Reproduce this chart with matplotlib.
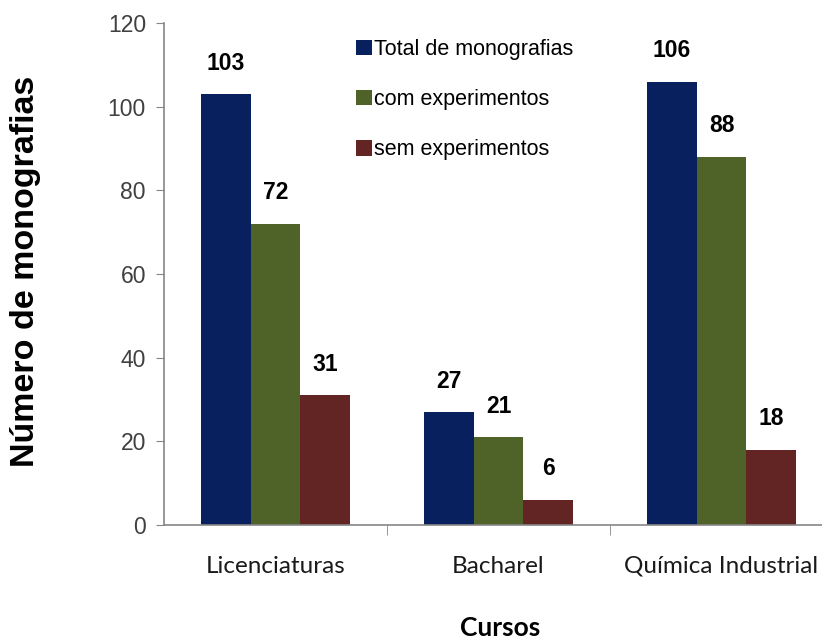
import numpy as np
import matplotlib
matplotlib.use("Agg")
import matplotlib.pyplot as plt

# data
cursos = ["Licenciaturas", "Bacharel", "Química Industrial"]
series = ["Total de monografias", "com experimentos", "sem experimentos"]
total = [103, 27, 106]
com_exp = [72, 21, 88]
sem_exp = [31, 6, 18]
colors = ["#08215E", "#4F6228", "#632523"]

SANS = ["Liberation Sans", "DejaVu Sans"]
W, H = 822, 639

fig = plt.figure(figsize=(W / 100, H / 100), dpi=100)
left, bottom, top = 164, 525, 23
ax = fig.add_axes([left / W, 1 - bottom / H, 1 - left / W, (bottom - top) / H])

x = np.arange(len(cursos))
bw = 0.222
for i, (vals, name, c) in enumerate(zip([total, com_exp, sem_exp], series, colors)):
    bars = ax.bar(x + (i - 1) * bw, vals, bw, color=c, label=name, zorder=2)
    for b, v in zip(bars, vals):
        ax.annotate(str(v), (b.get_x() + b.get_width() / 2, v),
                    xytext=(0, 14), textcoords="offset points",
                    ha="center", va="bottom", fontsize=16.5, fontweight="bold",
                    family=SANS, color="black")

ax.set_ylim(0, 120)
ax.set_xlim(-0.5, -0.5 + (W - left) / 223)
ax.set_yticks(range(0, 121, 20))
ax.tick_params(axis="y", direction="out", length=6, color="#868686",
               labelsize=16.5, labelcolor="#404040", pad=7)
for t in ax.get_yticklabels():
    t.set_family(SANS)

ax.set_xticks(x)
ax.set_xticklabels(cursos, family=["Lato", "DejaVu Sans"], fontsize=17.5,
                   color="#1a1a1a")
ax.tick_params(axis="x", which="major", length=0, pad=22)
ax.set_xticks([0.5, 1.5], minor=True)
ax.tick_params(axis="x", which="minor", direction="out", length=7,
               color="#868686")

for s in ["top", "right"]:
    ax.spines[s].set_visible(False)
for s in ["left", "bottom"]:
    ax.spines[s].set_color("#868686")
    ax.spines[s].set_linewidth(1.2)

ax.legend(loc="upper left", bbox_to_anchor=(356 / W, 1 - 39 / H),
          bbox_transform=fig.transFigure, frameon=False, borderpad=0,
          borderaxespad=0, handlelength=0.75, handleheight=0.75,
          handletextpad=0.1, labelspacing=1.35,
          prop={"family": SANS, "size": 15.5})

fig.text(26 / W, 1 - 271 / H, "Número de monografias", rotation=90,
         ha="center", va="center", fontsize=24.5, fontweight="bold",
         family=SANS)
fig.text(500 / W, 1 - 628 / H, "Cursos", ha="center", va="center",
         fontsize=19, fontweight="bold", family=["Lato", "DejaVu Sans"])

fig.savefig("out.png", dpi=100)
